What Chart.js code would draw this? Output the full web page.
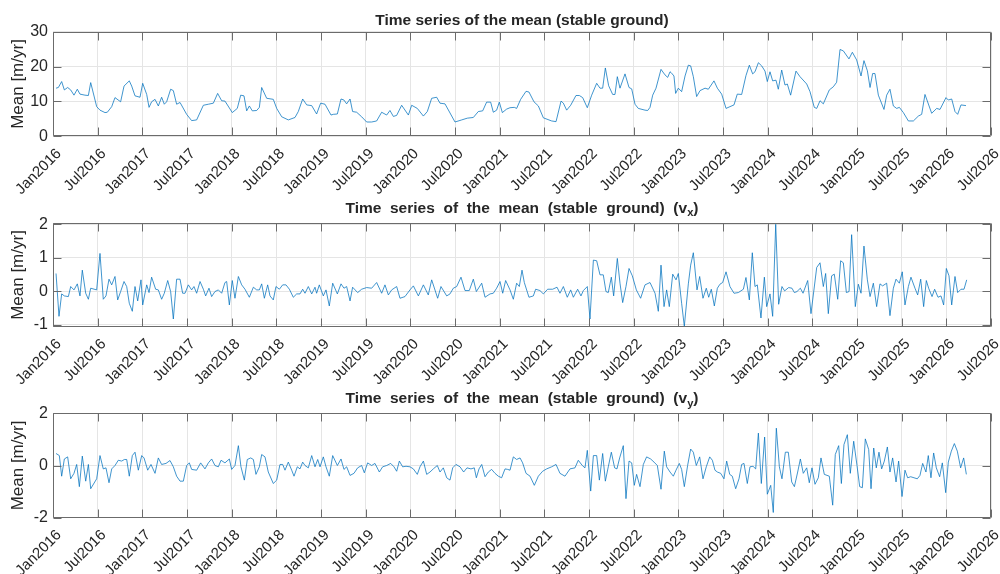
<!DOCTYPE html>
<html>
<head>
<meta charset="utf-8">
<script src="https://cdn.jsdelivr.net/npm/chart.js@4/dist/chart.umd.min.js"></script>
<style>
  html, body { margin: 0; padding: 0; background: #ffffff; }
  #wrap { position: relative; width: 1000px; height: 574px; overflow: hidden; }
  .panel { position: absolute; left: 0; width: 1000px; }
  canvas { display: block; }
</style>
</head>
<body>
<div id="wrap">
  <div class="panel" style="top:0;height:200px"><canvas id="cMean" width="1000" height="200"></canvas></div>
  <div class="panel" style="top:190px;height:200px"><canvas id="cVx" width="1000" height="200"></canvas></div>
  <div class="panel" style="top:380px;height:194px"><canvas id="cVy" width="1000" height="194"></canvas></div>
</div>
<script>
// Time axis: years after 1 January 2016.
const tickLabels = ['Jan2016','Jul2016','Jan2017','Jul2017','Jan2018','Jul2018','Jan2019','Jul2019',
  'Jan2020','Jul2020','Jan2021','Jul2021','Jan2022','Jul2022','Jan2023','Jul2023','Jan2024','Jul2024',
  'Jan2025','Jul2025','Jan2026','Jul2026'];

// Mean velocity of stable ground [m/yr]
const meanT = [0.034,0.060,0.097,0.127,0.164,0.198,0.235,0.272,0.302,0.358,0.396,0.422,0.489,0.526,0.582,0.608,
  0.657,0.694,0.757,0.795,0.854,0.881,0.918,0.974,1.004,1.049,1.075,1.104,1.142,1.179,1.216,1.246,1.272,1.317,
  1.347,1.384,1.422,1.496,1.552,1.608,1.683,1.739,1.795,1.843,1.888,1.925,2.007,2.063,2.101,2.138,2.168,2.198,
  2.231,2.280,2.310,2.336,2.392,2.466,2.504,2.560,2.634,2.709,2.746,2.795,2.840,2.896,2.951,2.996,3.045,3.112,
  3.138,3.183,3.224,3.257,3.287,3.325,3.354,3.399,3.455,3.511,3.567,3.623,3.679,3.735,3.772,3.810,3.847,3.903,
  3.978,4.015,4.078,4.146,4.190,4.239,4.295,4.332,4.388,4.500,4.575,4.638,4.705,4.761,4.810,4.854,4.899,4.929,
  4.966,4.996,5.030,5.078,5.116,5.164,5.190,5.235,5.295,5.328,5.384,5.433,5.489,5.582,5.631,5.687,5.713,5.750,
  5.795,5.854,5.892,5.929,5.981,6.030,6.086,6.123,6.153,6.183,6.220,6.265,6.291,6.317,6.347,6.403,6.448,6.478,
  6.515,6.552,6.627,6.657,6.683,6.713,6.750,6.806,6.851,6.881,6.907,6.918,6.951,6.970,7.000,7.037,7.075,7.112,
  7.138,7.168,7.205,7.243,7.299,7.336,7.399,7.437,7.485,7.534,7.578,7.623,7.660,7.709,7.757,7.795,7.832,7.858,
  7.896,7.933,7.970,7.996,8.026,8.056,8.093,8.119,8.157,8.194,8.220,8.257,8.317,8.362,8.437,8.474,8.522,8.549,
  8.586,8.623,8.690,8.735,8.772,8.810,8.847,8.910,8.948,8.996,9.045,9.078,9.116,9.146,9.175,9.201,9.239,9.302,
  9.332,9.369,9.407,9.444,9.474,9.519,9.575,9.631,9.687,9.724,9.761,9.836,9.892,9.929,9.996,10.022,10.060,
  10.097,10.127,10.164,10.220];
const meanV = [13.8,14.0,15.7,13.3,14.0,13.3,11.8,13.5,12.1,11.8,11.7,15.4,8.5,7.5,6.8,6.9,
  8.5,11.1,9.9,14.4,15.9,14.4,11.6,11.2,15.2,12.0,8.3,9.9,10.6,8.7,11.2,9.2,9.9,13.5,
  13.1,9.2,9.7,6.3,4.5,4.7,8.9,9.2,9.5,12.3,10.2,10.1,6.8,8.0,11.8,11.6,7.3,8.7,
  7.3,7.4,8.3,14.0,10.9,10.6,8.0,5.6,4.7,5.4,7.1,10.7,9.0,8.8,6.4,9.5,9.2,6.1,
  6.3,6.4,10.7,10.4,9.3,10.7,7.1,6.9,5.6,4.1,4.1,4.4,6.9,6.1,7.4,5.7,6.0,8.9,
  6.1,8.9,8.0,5.8,7.1,10.9,11.2,9.5,9.3,4.1,4.7,5.2,5.4,7.1,7.3,9.8,9.8,6.9,
  7.5,9.8,6.8,7.8,8.2,8.3,8.0,10.6,12.9,12.7,9.9,8.7,5.3,4.4,4.2,10.1,9.5,7.5,
  8.9,11.7,11.7,11.1,8.2,11.8,15.2,13.8,13.8,19.6,14.5,12.0,12.0,17.1,13.8,17.9,14.0,13.6,
  9.2,8.0,7.5,7.4,8.3,11.8,13.8,19.2,17.6,16.9,18.5,18.3,17.3,12.3,13.8,12.8,17.3,20.4,
  20.2,17.1,11.4,13.1,13.8,13.5,15.9,13.8,12.1,8.0,8.5,9.0,12.1,12.0,17.4,20.4,17.9,18.5,
  21.1,20.2,18.7,15.7,18.5,15.9,16.1,13.5,19.0,14.7,15.0,11.8,18.7,17.1,15.0,12.8,8.3,8.0,
  10.2,9.3,13.3,14.2,15.5,24.9,24.5,22.2,24.1,21.9,17.3,21.7,18.8,14.0,18.0,18.0,11.8,7.7,
  11.8,13.5,8.7,8.0,8.3,6.8,4.4,4.4,5.8,6.3,12.0,6.6,8.0,7.7,11.1,10.4,10.7,
  7.1,6.3,9.0,8.8];

// Mean east component v_x [m/yr]
const vxT = [0.034,0.067,0.097,0.127,0.172,0.198,0.235,0.272,0.302,0.328,0.366,0.396,0.422,0.489,0.526,0.563,
  0.593,0.627,0.657,0.694,0.724,0.757,0.795,0.825,0.854,0.888,0.918,0.948,0.985,1.004,1.049,1.075,1.104,1.149,
  1.179,1.216,1.246,1.284,1.317,1.347,1.384,1.422,1.451,1.478,1.515,1.552,1.578,1.608,1.646,1.683,1.709,1.746,
  1.776,1.813,1.851,1.888,1.925,1.944,1.974,2.007,2.037,2.075,2.112,2.149,2.198,2.243,2.280,2.310,2.336,2.366,
  2.403,2.429,2.466,2.496,2.534,2.571,2.608,2.646,2.690,2.728,2.765,2.795,2.821,2.858,2.896,2.933,2.951,2.981,
  3.026,3.056,3.093,3.131,3.183,3.224,3.257,3.287,3.325,3.354,3.410,3.455,3.511,3.567,3.623,3.679,3.716,3.754,
  3.791,3.847,3.884,3.940,3.996,4.034,4.090,4.146,4.201,4.239,4.306,4.343,4.407,4.444,4.481,4.519,4.567,4.612,
  4.660,4.705,4.739,4.799,4.836,4.892,4.929,4.966,5.004,5.034,5.067,5.116,5.153,5.190,5.220,5.250,5.276,5.328,
  5.377,5.403,5.451,5.489,5.537,5.593,5.642,5.675,5.713,5.757,5.795,5.825,5.873,5.910,5.937,5.981,6.011,6.049,
  6.086,6.123,6.160,6.190,6.216,6.250,6.276,6.317,6.347,6.377,6.414,6.448,6.485,6.530,6.578,6.627,6.683,6.739,
  6.776,6.806,6.840,6.869,6.899,6.937,6.974,7.000,7.037,7.067,7.112,7.138,7.168,7.209,7.239,7.276,7.313,7.340,
  7.369,7.403,7.437,7.466,7.496,7.534,7.578,7.623,7.672,7.728,7.757,7.795,7.828,7.858,7.884,7.925,7.963,7.989,
  8.026,8.056,8.090,8.123,8.160,8.190,8.235,8.272,8.299,8.328,8.366,8.396,8.448,8.485,8.549,8.586,8.623,8.649,
  8.679,8.716,8.746,8.784,8.817,8.847,8.881,8.911,8.940,8.981,9.015,9.045,9.078,9.116,9.146,9.183,9.220,9.257,
  9.287,9.332,9.369,9.407,9.437,9.474,9.507,9.537,9.575,9.604,9.649,9.679,9.713,9.746,9.776,9.802,9.840,9.869,
  9.907,9.940,9.970,10.000,10.030,10.060,10.097,10.127,10.164,10.198,10.228];
const vxV = [0.53,-0.75,-0.08,-0.14,-0.16,0.14,0.04,0.22,-0.14,0.63,-0.06,-0.24,0.09,0.04,1.13,-0.24,
  -0.14,0.36,0.19,0.44,-0.26,-0.01,0.29,0.14,-0.36,-0.60,0.14,-0.29,0.34,-0.41,0.19,-0.04,0.42,0.06,
  0.04,-0.24,-0.06,0.32,-0.01,-0.83,0.36,0.36,-0.06,-0.06,0.19,0.04,0.14,-0.06,0.29,0.06,-0.14,0.09,
  -0.16,-0.01,0.04,-0.06,0.26,0.29,-0.41,0.32,-0.21,0.44,0.19,0.06,-0.18,0.12,0.04,0.04,0.22,-0.21,
  0.19,-0.14,-0.26,0.14,0.06,0.19,0.19,0.06,-0.18,-0.08,-0.08,0.06,-0.06,0.14,-0.08,0.12,-0.06,0.19,
  -0.14,0.04,-0.44,0.24,-0.08,0.22,0.09,0.14,-0.29,0.12,-0.04,0.06,0.11,0.09,0.26,-0.06,0.19,-0.11,
  0.04,0.14,-0.21,-0.16,0.04,0.16,-0.14,0.19,-0.11,0.34,-0.21,0.14,-0.14,-0.08,0.09,0.14,0.42,0.02,
  0.02,0.36,-0.01,0.24,-0.18,-0.08,-0.06,0.09,0.29,-0.06,0.32,0.04,-0.24,0.24,0.14,0.63,0.26,-0.18,
  -0.14,0.06,0.02,-0.08,0.06,0.06,0.12,-0.06,0.14,-0.18,0.04,-0.18,0.06,-0.14,0.02,0.14,-0.83,0.93,
  0.91,0.49,0.49,-0.01,-0.04,0.42,-0.14,0.98,0.24,-0.34,0.14,0.68,0.46,0.04,-0.21,0.19,0.26,-0.06,
  -0.60,0.78,-0.46,0.04,-0.46,0.51,0.34,0.53,-0.36,-1.05,0.22,0.78,1.15,0.04,0.44,-0.21,0.09,-0.18,
  0.06,-0.44,0.09,0.21,0.26,0.58,0.14,-0.06,-0.04,0.06,0.41,-0.26,1.15,0.14,0.19,-0.80,0.42,-0.46,
  -0.08,-0.75,2.00,-0.39,0.14,0.01,0.11,0.09,-0.04,-0.01,0.09,-0.06,0.32,-0.67,0.71,0.85,0.14,0.53,
  -0.67,0.46,0.51,-0.24,0.91,0.85,-0.04,-0.01,1.69,-0.46,0.21,-0.06,1.35,0.34,-0.16,0.24,-0.46,0.22,
  0.16,0.24,-0.73,0.09,0.36,0.24,0.58,-0.41,0.14,0.42,0.09,-0.11,0.36,-0.46,0.32,0.09,-0.16,0.06,
  -0.18,-0.14,-0.41,0.68,0.46,-0.41,0.44,-0.04,0.06,0.06,0.34];

// Mean north component v_y [m/yr]
const vyT = [0.034,0.071,0.097,0.127,0.164,0.198,0.235,0.265,0.295,0.328,0.366,0.396,0.422,0.489,0.526,0.563,
  0.593,0.627,0.657,0.694,0.731,0.769,0.799,0.825,0.854,0.888,0.918,0.955,0.993,1.019,1.060,1.097,1.142,1.179,
  1.216,1.265,1.310,1.347,1.384,1.422,1.459,1.496,1.526,1.552,1.608,1.653,1.701,1.739,1.776,1.813,1.851,1.881,
  1.925,1.974,2.000,2.037,2.075,2.104,2.142,2.175,2.213,2.243,2.272,2.310,2.336,2.373,2.410,2.466,2.504,2.541,
  2.571,2.597,2.634,2.672,2.698,2.735,2.765,2.795,2.821,2.858,2.896,2.933,2.963,2.989,3.026,3.056,3.093,3.131,
  3.183,3.224,3.257,3.287,3.325,3.369,3.410,3.455,3.485,3.522,3.567,3.604,3.653,3.690,3.735,3.780,3.817,3.847,
  3.877,3.914,3.952,3.996,4.034,4.078,4.108,4.146,4.183,4.220,4.257,4.302,4.332,4.369,4.407,4.444,4.474,4.511,
  4.556,4.597,4.634,4.679,4.716,4.739,4.769,4.799,4.836,4.873,4.910,4.948,4.985,5.022,5.060,5.090,5.116,5.153,
  5.190,5.228,5.257,5.295,5.340,5.388,5.433,5.481,5.526,5.582,5.631,5.675,5.731,5.787,5.843,5.880,5.925,5.955,
  5.981,6.019,6.049,6.086,6.116,6.153,6.183,6.216,6.250,6.287,6.313,6.343,6.384,6.414,6.448,6.478,6.507,6.533,
  6.571,6.608,6.645,6.690,6.728,6.765,6.806,6.843,6.869,6.907,6.944,6.974,7.011,7.037,7.067,7.104,7.138,7.168,
  7.201,7.239,7.276,7.313,7.351,7.381,7.410,7.437,7.474,7.511,7.541,7.575,7.604,7.642,7.679,7.709,7.735,7.772,
  7.802,7.836,7.866,7.896,7.929,7.966,7.996,8.034,8.063,8.097,8.131,8.160,8.198,8.231,8.269,8.299,8.336,8.366,
  8.399,8.437,8.466,8.496,8.530,8.567,8.597,8.634,8.690,8.728,8.757,8.795,8.825,8.854,8.892,8.925,8.963,9.000,
  9.030,9.060,9.093,9.131,9.157,9.187,9.216,9.246,9.276,9.306,9.340,9.369,9.399,9.437,9.466,9.504,9.537,9.567,
  9.601,9.638,9.675,9.705,9.735,9.772,9.798,9.828,9.858,9.888,9.925,9.955,9.993,10.022,10.056,10.090,10.123,
  10.160,10.194,10.224];
const vyV = [0.46,0.38,-0.41,0.25,0.33,-0.51,-0.30,0.04,-0.81,0.36,-0.60,0.04,-0.89,-0.51,0.38,-0.13,
  -0.09,-0.66,-0.13,0.00,0.20,0.17,0.23,0.23,-0.41,0.38,0.51,-0.18,0.38,0.29,-0.18,0.04,-0.30,0.29,
  0.04,0.08,0.19,-0.05,-0.41,-0.60,-0.60,0.00,0.10,-0.15,-0.18,0.10,-0.13,0.10,0.25,0.00,-0.05,0.20,
  0.10,0.25,-0.15,0.00,0.76,-0.05,-0.56,0.23,0.29,0.23,-0.34,-0.05,0.42,0.33,-0.25,-0.69,-0.56,0.04,
  0.04,-0.18,0.13,-0.18,-0.41,-0.05,-0.13,0.13,0.00,-0.09,0.38,-0.05,0.23,-0.05,0.33,-0.05,-0.41,0.38,
  0.00,0.25,-0.15,-0.05,-0.38,-0.30,-0.09,0.00,-0.28,0.10,0.00,0.08,-0.25,-0.05,0.00,0.08,-0.05,-0.22,
  0.17,-0.05,-0.03,-0.05,-0.13,-0.34,-0.05,0.17,-0.34,-0.25,-0.13,0.00,-0.25,-0.09,-0.47,-0.56,-0.09,0.04,
  -0.05,-0.25,-0.09,-0.13,-0.09,-0.47,-0.13,0.04,-0.43,-0.25,-0.15,-0.30,-0.41,-0.47,-0.13,-0.15,-0.18,0.33,
  0.23,0.29,0.10,-0.30,-0.41,-0.76,-0.41,-0.22,-0.13,-0.05,0.04,-0.30,-0.41,-0.13,-0.09,0.20,0.00,-0.09,
  0.58,-0.98,0.38,0.38,-0.56,0.46,-0.60,-0.05,0.51,-0.09,-0.13,0.29,0.76,-1.27,0.17,0.10,-0.76,-0.34,
  -0.81,0.04,0.33,0.25,0.13,0.00,-0.91,0.55,-0.05,-0.25,-0.41,-0.18,0.08,-0.15,-0.81,0.00,0.63,0.51,
  0.00,0.33,-0.51,-0.05,0.33,0.20,-0.18,-0.25,-0.30,-0.51,0.17,-0.34,-0.41,-0.89,-0.51,0.04,0.08,-0.69,
  -0.05,-0.03,-0.13,1.24,-0.69,1.09,-1.10,-0.76,-1.80,1.43,-0.05,-0.51,0.51,0.51,-0.63,-0.81,-0.25,0.25,
  -0.30,-0.09,-0.66,-0.09,-0.72,-0.47,0.29,-0.34,-0.41,-1.52,0.42,0.76,-0.69,0.80,1.18,-0.30,0.93,0.00,
  -0.81,-0.85,1.02,0.61,-0.89,0.67,-0.09,0.51,-0.13,0.17,0.71,-0.25,0.29,-0.63,0.17,-1.19,-0.18,-0.47,
  -0.43,-0.47,-0.51,-0.38,0.08,-0.25,0.38,-0.47,0.48,-0.09,-0.43,0.10,-1.04,0.13,0.55,0.84,0.55,
  -0.09,0.29,-0.34];

const meanTicks = [0, 10, 20, 30];
const vxTicks = [-1, 0, 1, 2];
const vyTicks = [-2, 0, 2];

const FONT = "'Liberation Sans', Arial, Helvetica, sans-serif";
const TEXT = '#262626';
const LINE = '#0072BD';
const GRID = '#e5e5e5';
const FRAME = '#6b6b6b';

Chart.defaults.font.family = FONT;
Chart.defaults.color = TEXT;

// Frame, inward tick marks, rotated date labels and the (subscripted) title.
const axesDecor = {
  id: 'axesDecor',
  afterDatasetsDraw(chart) {
    const { ctx, chartArea: a, scales } = chart;
    const L = Math.round(a.left) + 0.5, R = Math.round(a.right) - 0.5;
    const T = Math.round(a.top) + 0.5, B = Math.round(a.bottom) - 0.5;
    ctx.save();
    ctx.strokeStyle = FRAME;
    ctx.lineWidth = 1;
    ctx.beginPath();
    ctx.rect(L, T, R - L, B - T);
    const tl = 8;
    scales.x.ticks.forEach(t => {
      const px = Math.round(scales.x.getPixelForValue(t.value)) + 0.5;
      ctx.moveTo(px, B); ctx.lineTo(px, B - tl);
      ctx.moveTo(px, T); ctx.lineTo(px, T + tl);
    });
    scales.y.ticks.forEach(t => {
      const py = Math.round(scales.y.getPixelForValue(t.value)) + 0.5;
      ctx.moveTo(L, py); ctx.lineTo(L + tl, py);
      ctx.moveTo(R, py); ctx.lineTo(R - tl, py);
    });
    ctx.stroke();

    // date labels, rotated 45 degrees and ending just below each tick
    ctx.fillStyle = TEXT;
    ctx.font = `15px ${FONT}`;
    ctx.textAlign = 'right';
    ctx.textBaseline = 'middle';
    scales.x.ticks.forEach((t, i) => {
      const px = scales.x.getPixelForValue(t.value);
      ctx.save();
      ctx.translate(px + 6, a.bottom + 15);
      ctx.rotate(-Math.PI / 4);
      ctx.fillText(tickLabels[i], 0, 0);
      ctx.restore();
    });
    ctx.restore();
  },
  afterDraw(chart, args, opts) {
    const { ctx, chartArea: a } = chart;
    const parts = opts.parts || [];
    const size = 15.5;
    const main = `bold ${size}px ${FONT}`;
    const sub = `bold ${size * 0.72}px ${FONT}`;
    ctx.save();
    ctx.fillStyle = TEXT;
    ctx.textBaseline = 'alphabetic';
    ctx.textAlign = 'left';
    let w = 0;
    parts.forEach(p => { ctx.font = p[1] ? sub : main; w += ctx.measureText(p[0]).width; });
    let x = (a.left + a.right) / 2 - w / 2;
    const y = a.top - opts.gap;
    parts.forEach(p => {
      ctx.font = p[1] ? sub : main;
      ctx.fillText(p[0], x, p[1] ? y + 3.5 : y);
      x += ctx.measureText(p[0]).width;
    });
    ctx.restore();
  }
};

function makePanel(id, times, values, yMin, yMax, yTicks, cfg) {
  const points = times.map((t, i) => ({ x: t, y: values[i] }));
  return new Chart(document.getElementById(id), {
    type: 'line',
    data: { datasets: [{ data: points, borderColor: LINE, borderWidth: 0.75, pointRadius: 0, tension: 0, fill: false }] },
    options: {
      responsive: false,
      animation: false,
      events: [],
      layout: { padding: { top: cfg.areaTop, right: 9, bottom: 0, left: 0 } },
      plugins: {
        legend: { display: false },
        tooltip: { enabled: false },
        axesDecor: { parts: cfg.title, gap: cfg.titleGap }
      },
      scales: {
        x: {
          type: 'linear', min: 0, max: (tickLabels.length - 1) / 2,
          afterBuildTicks: s => { s.ticks = tickLabels.map((_, i) => ({ value: i / 2 })); },
          afterFit: s => { s.height = cfg.xAxisHeight; },
          grid: { color: GRID, drawTicks: false, lineWidth: 1 },
          border: { display: false },
          ticks: { display: false }
        },
        y: {
          min: yMin, max: yMax,
          afterBuildTicks: s => { s.ticks = yTicks.map(v => ({ value: v })); },
          afterFit: s => { s.width = 53; },
          grid: { color: GRID, drawTicks: false, lineWidth: 1 },
          border: { display: false },
          ticks: { padding: 5, font: { size: 16 }, color: TEXT },
          title: { display: true, text: 'Mean [m/yr]', font: { size: 17 }, color: TEXT, padding: { top: 8, bottom: 0 } }
        }
      }
    },
    plugins: [axesDecor]
  });
}

makePanel('cMean', meanT, meanV, 0, 30, meanTicks, {
  areaTop: 31.7, xAxisHeight: 63.7, titleGap: 6.5,
  title: [['Time series of the mean (stable ground)', false]]
});
makePanel('cVx', vxT, vxV, -1.06, 2.03, vxTicks, {
  areaTop: 33.3, xAxisHeight: 63.3, titleGap: 10.5,
  title: [['Time  series  of  the  mean  (stable  ground)  (v', false], ['x', true], [')', false]]
});
makePanel('cVy', vyT, vyV, -2, 2, vyTicks, {
  areaTop: 33.3, xAxisHeight: 56.3, titleGap: 10,
  title: [['Time  series  of  the  mean  (stable  ground)  (v', false], ['y', true], [')', false]]
});
</script>
</body>
</html>
